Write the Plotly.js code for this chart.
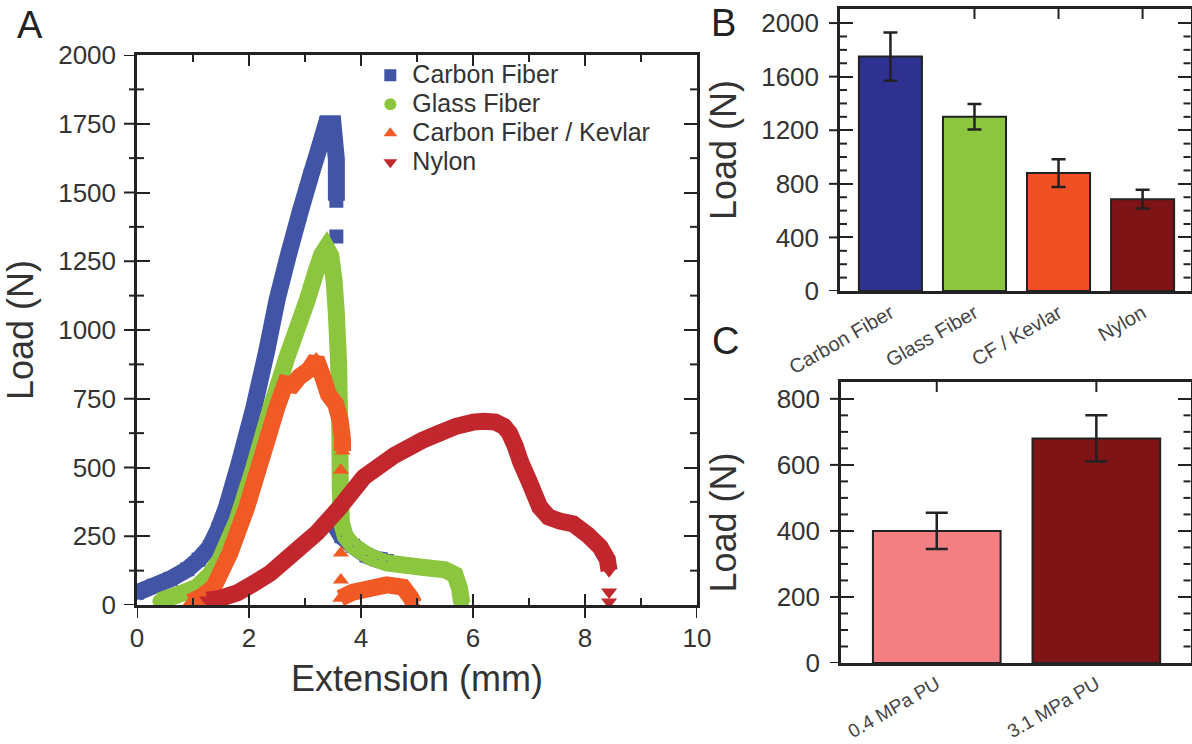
<!DOCTYPE html>
<html>
<head>
<meta charset="utf-8">
<script src="https://cdn.plot.ly/plotly-3.0.1.min.js"></script>
<style>html,body{margin:0;padding:0;background:#fff;}#chart{width:1192px;height:744px;}</style>
</head>
<body>
<div id="chart"></div>
<script>
// ---------- Panel A: load vs extension curves ----------
const carbonX = [0, 0.3, 0.6, 0.9, 1.1, 1.3, 1.45, 1.6, 1.84, 2.09, 2.32, 2.5, 2.7, 2.9, 3.1, 3.25, 3.38, 3.5, 3.56, 3.56, null, 3.56, null, 3.5, 3.65, 3.86, 4.1, 4.3, 4.46];
const carbonY = [45, 70, 95, 130, 165, 211, 275, 356, 527, 720, 927, 1109, 1270, 1420, 1560, 1660, 1750, 1750, 1620, 1470, null, 1340, null, 300, 250, 215, 180, 165, 160];

const glassX = [0.4, 0.7, 1.07, 1.3, 1.48, 1.79, 2.09, 2.38, 2.68, 3.04, 3.2, 3.3, 3.38, 3.46, 3.52, 3.56, 3.6, 3.62, 3.63, 3.65, 3.72, 3.86, 4.16, 4.46, 5.05, 5.5, 5.68, 5.76, 5.8];
const glassY = [15, 35, 65, 110, 164, 309, 502, 709, 902, 1109, 1215, 1275, 1300, 1270, 1180, 1060, 880, 650, 420, 300, 250, 215, 175, 153, 138, 128, 110, 60, 5];

const kevlarX = [0.95, 1.15, 1.37, 1.66, 1.96, 2.27, 2.5, 2.65, 2.78, 2.9, 3.07, 3.2, 3.3, 3.42, 3.55, 3.63, 3.67, 3.67, null, 3.64, null, 3.64, null, 3.64, null, 3.63, 3.86, 4.2, 4.46, 4.75, 4.88, 4.95];
const kevlarY = [10, 30, 65, 189, 356, 564, 720, 805, 800, 830, 855, 895, 840, 765, 730, 670, 600, 560, null, 490, null, 189, null, 91, null, 25, 47, 62, 73, 65, 30, 3];

const nylonX = [1.25, 1.5, 1.79, 2.1, 2.38, 2.8, 3.21, 3.6, 4.05, 4.6, 5.1, 5.4, 5.7, 6.0, 6.2, 6.4, 6.55, 6.65, 6.75, 6.85, 7.0, 7.19, 7.35, 7.55, 7.79, 8.05, 8.27, 8.4, 8.43, null, 8.43, null, 8.43];
const nylonY = [18, 25, 44, 80, 116, 190, 262, 350, 465, 545, 599, 625, 650, 665, 668, 665, 650, 625, 580, 520, 451, 357, 320, 305, 295, 255, 211, 165, 125, null, 47, null, 11];

const seriesNames = ['Carbon Fiber', 'Glass Fiber', 'Carbon Fiber / Kevlar', 'Nylon'];
const curveColors = ['#4154a6', '#8cc63f', '#f15a24', '#c1272d'];
const curveSymbols = ['square', 'circle', 'triangle-up', 'triangle-down'];

// tick positions
const aXMajor = [0, 2, 4, 6, 8, 10];
const aXMinor = [1, 3, 5, 7, 9];
const aYMajor = [0, 250, 500, 750, 1000, 1250, 1500, 1750, 2000];
const aYMinor = [125, 375, 625, 875, 1125, 1375, 1625, 1875];

// ---------- Panel B: peak load by material ----------
const bCats = ['Carbon Fiber', 'Glass Fiber', 'CF / Kevlar', 'Nylon'];
const bVals = [1750, 1300, 880, 685];
const bErr = [180, 95, 103, 70];
const bColors = ['#2e3190', '#8cc63f', '#f04e23', '#7f1416'];
const bYMajor = [0, 400, 800, 1200, 1600, 2000];
const bYMinor = [100, 200, 300, 500, 600, 700, 900, 1000, 1100, 1300, 1400, 1500, 1700, 1800, 1900];

// ---------- Panel C: peak load by PU ----------
const cCats = ['0.4 MPa PU', '3.1 MPa PU'];
const cVals = [400, 680];
const cErr = [55, 70];
const cColors = ['#f37f82', '#7f1416'];
const cYMajor = [0, 200, 400, 600, 800];
const cYMinor = [50, 100, 150, 250, 300, 350, 450, 500, 550, 650, 700, 750];

const ink = '#222';
const txt = '#333';
const FONT = 'Liberation Sans, Arial, sans-serif';
const W = 1192, H = 744;

const curves = [[carbonX, carbonY], [glassX, glassY], [kevlarX, kevlarY], [nylonX, nylonY]];
const traces = [];
curves.forEach((c, i) => {
  traces.push({
    type: 'scatter', mode: 'lines+markers', x: c[0], y: c[1], connectgaps: false,
    line: {color: curveColors[i], width: 17, simplify: false},
    marker: {color: curveColors[i], symbol: curveSymbols[i], size: 14, line: {width: 0}},
    showlegend: false, hoverinfo: 'skip', xaxis: 'x', yaxis: 'y'
  });
});
// legend entries (tiny markers hidden under the bands; legend draws constant-size symbols)
curves.forEach((c, i) => {
  traces.push({
    type: 'scatter', mode: 'markers', x: c[0], y: c[1],
    name: '<span style="font-size:25px">' + seriesNames[i] + '</span>',
    marker: {color: curveColors[i], symbol: curveSymbols[i], size: 1, line: {width: 0}},
    hoverinfo: 'skip', xaxis: 'x', yaxis: 'y'
  });
});

traces.push({
  type: 'bar', x: bCats, y: bVals, width: 0.75, showlegend: false,
  marker: {color: bColors, line: {color: ink, width: 2}},
  error_y: {type: 'data', array: bErr, visible: true, color: ink, thickness: 2.5, width: 7},
  xaxis: 'x3', yaxis: 'y3'
});
traces.push({
  type: 'bar', x: cCats, y: cVals, width: 0.8, showlegend: false,
  marker: {color: cColors, line: {color: ink, width: 2}},
  error_y: {type: 'data', array: cErr, visible: true, color: ink, thickness: 2.5, width: 11},
  xaxis: 'x5', yaxis: 'y5'
});

const baseLine = {showline: true, linecolor: ink, linewidth: 2.5, showgrid: false, zeroline: false,
  tickcolor: ink, tickwidth: 2, tickfont: {family: FONT, size: 26, color: txt}};
const titleFont = {family: FONT, size: 36, color: txt};

const domAx = [137/W, 697/W], domAy = [(H-605)/H, (H-55)/H];
const domBx = [840/W, 1190.5/W], domBy = [(H-291)/H, (H-9)/H];
const domCx = [841/W, 1190.5/W], domCy = [(H-663)/H, (H-382)/H];
const bRange = [-0.6, 3.57], cRange = [-0.6, 1.59];

// extra tick marks (outside parts of crossing ticks, minor ticks, top category ticks)
const tl = {color: ink, width: 2};
function vTick(xref, v, yPaper, lenPx, dir) {
  return {type: 'line', xref: xref, yref: 'paper', x0: v, x1: v, y0: yPaper, y1: yPaper + dir * lenPx / H, line: tl, layer: 'above'};
}
function hTick(yref, v, xPaper, lenPx, dir) {
  return {type: 'line', xref: 'paper', yref: yref, x0: xPaper, x1: xPaper + dir * lenPx / W, y0: v, y1: v, line: tl, layer: 'above'};
}
const shapes = [];
// Panel A
aXMajor.forEach(v => shapes.push(vTick('x', v, domAy[0], 13, -1)));
aXMinor.forEach(v => { shapes.push(vTick('x', v, domAy[0], 7, 1)); shapes.push(vTick('x', v, domAy[1], 7, -1)); });
aYMajor.forEach(v => shapes.push(hTick('y', v, domAx[0], 13, -1)));
aYMinor.forEach(v => {
  shapes.push(hTick('y', v, domAx[0], 8, -1));
  shapes.push(hTick('y', v, domAx[0], 7, 1));
  shapes.push(hTick('y', v, domAx[1], 7, -1));
});
// Panel B
bYMajor.forEach(v => shapes.push(hTick('y3', v, domBx[0], 11, -1)));
bYMinor.forEach(v => { shapes.push(hTick('y3', v, domBx[0], 7, 1)); shapes.push(hTick('y3', v, domBx[1], 7, -1)); });
bCats.forEach((c, i) => { if (i > 0) shapes.push(vTick('x3', i, domBy[1], 10, -1)); });
// Panel C
cYMajor.forEach(v => shapes.push(hTick('y5', v, domCx[0], 11, -1)));
cYMinor.forEach(v => { shapes.push(hTick('y5', v, domCx[0], 7, 1)); shapes.push(hTick('y5', v, domCx[1], 7, -1)); });
cCats.forEach((c, i) => shapes.push(vTick('x5', i, domCy[1], 10, -1)));

const layout = {
  width: W, height: H, margin: {l: 0, r: 0, t: 0, b: 0},
  paper_bgcolor: '#fff', plot_bgcolor: '#fff',
  font: {family: FONT, color: txt},
  showlegend: true,
  legend: {x: 0.309, y: 0.925, xanchor: 'left', yanchor: 'top', bgcolor: 'rgba(0,0,0,0)', itemsizing: 'constant',
    font: {family: FONT, size: 20, color: txt}, tracegroupgap: 0, itemclick: false, itemwidth: 34},

  xaxis: Object.assign({}, baseLine, {domain: domAx, anchor: 'y', range: [0, 10], tickmode: 'array', tickvals: aXMajor,
    ticks: 'inside', ticklen: 11, mirror: 'allticks', ticklabelstandoff: 8,
    title: {text: 'Extension (mm)', font: titleFont, standoff: 14}}),
  yaxis: Object.assign({}, baseLine, {domain: domAy, anchor: 'x', range: [0, 2000], tickmode: 'array', tickvals: aYMajor,
    ticks: 'inside', ticklen: 13, mirror: 'allticks', ticklabelstandoff: 13,
    title: {text: 'Load (N)', font: titleFont, standoff: 14}}),

  xaxis3: Object.assign({}, baseLine, {domain: domBx, anchor: 'y3', type: 'category', range: bRange,
    categoryorder: 'array', categoryarray: bCats,
    ticks: '', mirror: true, tickangle: -30, tickfont: {family: FONT, size: 20, color: '#444'}}),
  yaxis3: Object.assign({}, baseLine, {domain: domBy, anchor: 'x3', range: [0, 2105], tickmode: 'array', tickvals: bYMajor,
    ticks: 'inside', ticklen: 13, mirror: 'allticks', ticklabelstandoff: 13,
    title: {text: 'Load (N)', font: titleFont, standoff: 14}}),

  xaxis5: Object.assign({}, baseLine, {domain: domCx, anchor: 'y5', type: 'category', range: cRange,
    categoryorder: 'array', categoryarray: cCats,
    ticks: '', mirror: true, tickangle: -30, tickfont: {family: FONT, size: 19, color: '#444'}}),
  yaxis5: Object.assign({}, baseLine, {domain: domCy, anchor: 'x5', range: [0, 851], tickmode: 'array', tickvals: cYMajor,
    ticks: 'inside', ticklen: 13, mirror: 'allticks', ticklabelstandoff: 13,
    title: {text: 'Load (N)', font: titleFont, standoff: 30}}),

  shapes: shapes,

  annotations: [
    {text: 'A', x: 30/W, y: (H-25)/H, xref: 'paper', yref: 'paper', xanchor: 'center', yanchor: 'middle', showarrow: false,
      font: {family: FONT, size: 38, color: ink}},
    {text: 'B', x: 723/W, y: (H-23)/H, xref: 'paper', yref: 'paper', xanchor: 'center', yanchor: 'middle', showarrow: false,
      font: {family: FONT, size: 38, color: ink}},
    {text: 'C', x: 725/W, y: (H-341)/H, xref: 'paper', yref: 'paper', xanchor: 'center', yanchor: 'middle', showarrow: false,
      font: {family: FONT, size: 38, color: ink}}
  ]
};

Plotly.newPlot('chart', traces, layout, {displayModeBar: false, responsive: false});
</script>
</body>
</html>
